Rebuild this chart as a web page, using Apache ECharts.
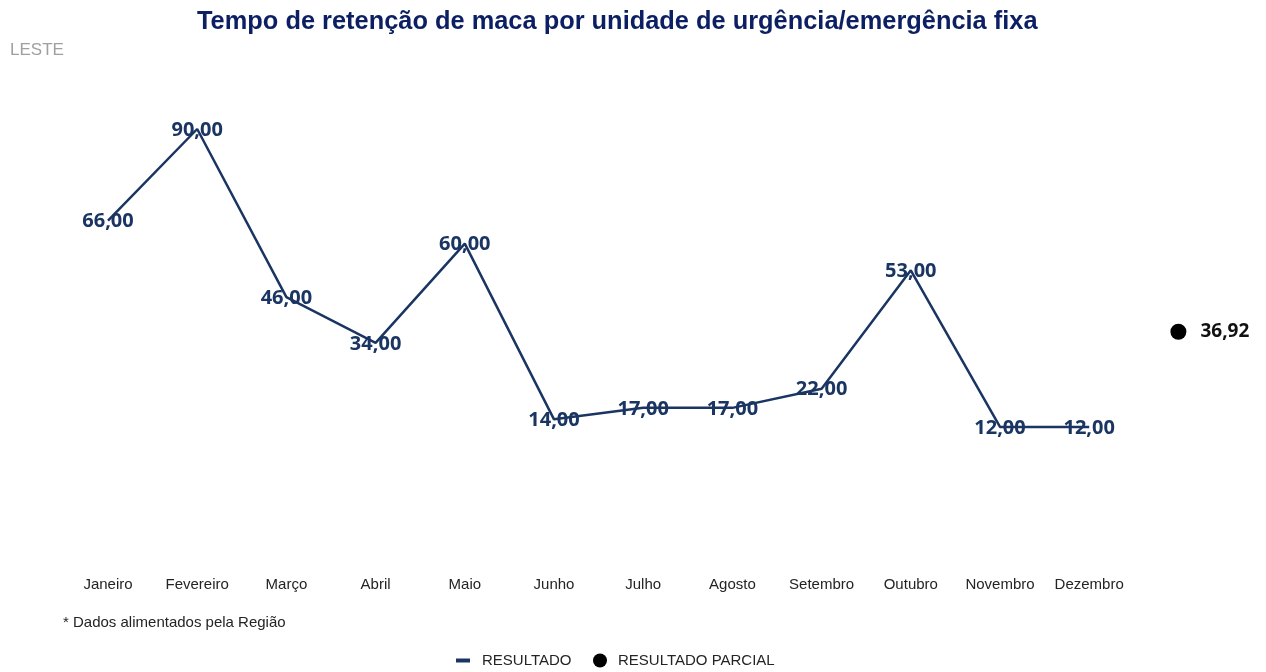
<!DOCTYPE html>
<html>
<head>
<meta charset="utf-8">
<script src="https://cdn.jsdelivr.net/npm/echarts@6/dist/echarts.min.js"></script>
<style>
html,body{margin:0;padding:0;background:#fff;}
#chart{width:1266px;height:672px;}
</style>
</head>
<body>
<div id="chart"></div>
<script>
const categories = ['Janeiro','Fevereiro','Março','Abril','Maio','Junho','Julho','Agosto','Setembro','Outubro','Novembro','Dezembro',''];
const resultado = [66,90,46,34,60,14,17,17,22,53,12,12,'-'];
const resultadoParcial = ['-','-','-','-','-','-','-','-','-','-','-','-',36.92];
const titleText = 'Tempo de retenção de maca por unidade de urgência/emergência fixa';
const subtitleText = 'LESTE';
const footnote = '* Dados alimentados pela Região';

const fmt = v => Number(v).toFixed(2).replace('.', ',');

const chart = echarts.init(document.getElementById('chart'));
chart.setOption({
  backgroundColor: '#fff',
  title: {
    text: titleText,
    left: 192,
    top: 4,
    textStyle: {fontFamily: 'Liberation Sans, Arial', fontSize: 25.4, fontWeight: 'bold', color: '#0c1f63'}
  },
  graphic: [
    {type: 'text', left: 10, top: 42, style: {text: subtitleText, fontFamily: 'Liberation Sans, Arial', fontSize: 17, fill: '#a0a0a0'}},
    {type: 'text', left: 63, top: 615, style: {text: footnote, fontFamily: 'Liberation Sans, Arial', fontSize: 15, fill: '#252423'}}
  ],
  legend: [
    {
      data: [{name: 'RESULTADO', icon: 'rect'}],
      left: 456, top: 653, padding: 0, itemWidth: 14, itemHeight: 4,
      textStyle: {fontFamily: 'Liberation Sans, Arial', fontSize: 15, color: '#252423', padding: [0,0,0,7]}
    },
    {
      data: [{name: 'RESULTADO PARCIAL', icon: 'circle'}],
      left: 593, top: 653, padding: 0, itemWidth: 14, itemHeight: 14,
      textStyle: {fontFamily: 'Liberation Sans, Arial', fontSize: 15, color: '#252423', padding: [0,0,0,6]}
    }
  ],
  grid: {left: 63.4, right: 43, top: 52.6, bottom: 103.7},
  xAxis: {
    type: 'category',
    data: categories,
    boundaryGap: true,
    axisLine: {show: false},
    axisTick: {show: false},
    axisLabel: {fontFamily: 'Liberation Sans, Arial', fontSize: 15, color: '#252423', margin: 9, interval: 0}
  },
  yAxis: {
    type: 'value', min: -25, max: 110, show: false,
    splitLine: {show: false}
  },
  series: [
    {
      name: 'RESULTADO',
      type: 'line',
      data: resultado,
      symbol: 'circle',
      symbolSize: 0.1,
      showAllSymbol: true,
      lineStyle: {color: '#1b3563', width: 2.5},
      itemStyle: {color: '#1b3563'},
      label: {
        show: true, position: 'inside', offset: [0, 1],
        formatter: p => fmt(p.value),
        fontFamily: 'Noto Sans', fontSize: 20, fontWeight: 'bold', color: '#1b3563'
      },
      emphasis: {disabled: true},
      animation: false
    },
    {
      name: 'RESULTADO PARCIAL',
      type: 'scatter',
      data: resultadoParcial,
      symbol: 'circle',
      symbolSize: 16,
      itemStyle: {color: '#000', opacity: 1},
      label: {
        show: true, position: 'right', distance: 14,
        formatter: p => fmt(p.value),
        fontFamily: 'Noto Sans', fontSize: 19, fontWeight: 'bold', color: '#111'
      },
      emphasis: {disabled: true},
      animation: false
    }
  ]
});
</script>
</body>
</html>
